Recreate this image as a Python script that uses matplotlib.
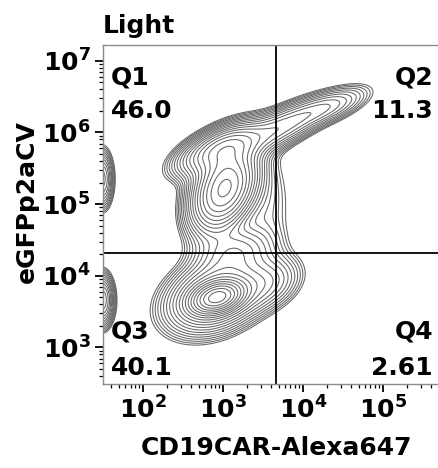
import numpy as np
import matplotlib
matplotlib.use("Agg")
import matplotlib.pyplot as plt
from matplotlib.ticker import LogLocator, NullFormatter, FixedLocator, FixedFormatter

plt.rcParams['font.family'] = ['DejaVu Sans']
plt.rcParams['font.weight'] = 'bold'
plt.rcParams['mathtext.fontset'] = 'dejavusans'
plt.rcParams['mathtext.default'] = 'bf'

# ---- chart data ----
title = "Light"
x_label = "CD19CAR-Alexa647"
y_label = "eGFPp2aCV"
quad_names = ["Q1", "Q2", "Q3", "Q4"]
quad_values = ["46.0", "11.3", "40.1", "2.61"]
gate_x = 4600.0
gate_y = 2.1e4
x_range = [10 ** 1.5, 10 ** 5.69]
y_range = [10 ** 2.49, 10 ** 7.22]
x_ticks = [1e2, 1e3, 1e4, 1e5]
x_tick_labels = [r"$10^{2}$", r"$10^{3}$", r"$10^{4}$", r"$10^{5}$"]
y_ticks = [1e3, 1e4, 1e5, 1e6, 1e7]
y_tick_labels = [r"$10^{3}$", r"$10^{4}$", r"$10^{5}$", r"$10^{6}$", r"$10^{7}$"]

# cell populations (log10 space): centre, spread, correlation, weight
pop_logx = [3.02, 2.98, 3.70, 4.30, 2.93, 2.90, 3.55, 3.15, 3.55, 1.49, 1.49]
pop_logy = [5.22, 5.78, 6.05, 6.35, 3.70, 3.72, 3.90, 4.35, 5.00, 5.35, 3.66]
pop_sdx = [0.22, 0.30, 0.32, 0.30, 0.17, 0.33, 0.25, 0.28, 0.20, 0.075, 0.08]
pop_sdy = [0.32, 0.20, 0.22, 0.17, 0.12, 0.28, 0.22, 0.20, 0.45, 0.22, 0.20]
pop_rho = [0.35, 0.60, 0.70, 0.65, 0.30, 0.30, 0.30, 0.20, 0.00, 0.00, 0.00]
pop_weight = [1.00, 0.42, 0.20, 0.13, 1.30, 0.42, 0.12, 0.16, 0.04, 0.22, 0.30]

# ---- density on a log grid ----
u = np.linspace(np.log10(x_range[0]), np.log10(x_range[1]), 500)
v = np.linspace(np.log10(y_range[0]), np.log10(y_range[1]), 500)
U, V = np.meshgrid(u, v)
Z = np.zeros_like(U)
for mx, my, sx, sy, r, w in zip(pop_logx, pop_logy, pop_sdx, pop_sdy, pop_rho, pop_weight):
    dx = (U - mx) / sx
    dy = (V - my) / sy
    q = (dx ** 2 - 2 * r * dx * dy + dy ** 2) / (1 - r ** 2)
    Z += w * np.exp(-0.5 * q)

levels = Z.max() * np.geomspace(0.012, 0.85, 20)

fig = plt.figure(figsize=(4.38, 4.68), dpi=100)
W, H = 438.0, 468.0
ax = fig.add_axes([103 / W, 1 - 384 / H, 1 - 103 / W, (384 - 45) / H])
ax.set_xscale('log')
ax.set_yscale('log')
ax.contour(10 ** U, 10 ** V, Z, levels=levels, colors='#666666', linewidths=0.75)
ax.set_xlim(x_range)
ax.set_ylim(y_range)

ax.axvline(gate_x, color='black', lw=1.3)
ax.axhline(gate_y, color='black', lw=1.3)

for s in ['left', 'bottom', 'top']:
    ax.spines[s].set_color('#8a8a8a')
    ax.spines[s].set_linewidth(1.0)
ax.spines['right'].set_visible(False)

ax.xaxis.set_major_locator(FixedLocator(x_ticks))
ax.xaxis.set_major_formatter(FixedFormatter(x_tick_labels))
ax.yaxis.set_major_locator(FixedLocator(y_ticks))
ax.yaxis.set_major_formatter(FixedFormatter(y_tick_labels))
ax.xaxis.set_minor_locator(LogLocator(base=10, subs=np.arange(2, 10), numticks=20))
ax.yaxis.set_minor_locator(LogLocator(base=10, subs=np.arange(2, 10), numticks=20))
ax.xaxis.set_minor_formatter(NullFormatter())
ax.yaxis.set_minor_formatter(NullFormatter())
ax.tick_params(which='major', direction='out', length=6, width=1.3, color='black',
               labelsize=18, pad=3)
ax.tick_params(which='minor', direction='out', length=3, width=0.9, color='black')
ax.tick_params(axis='x', which='major', pad=3)

fs = 18
fig.text(103 / W, 1 - 33 / H, title, fontsize=fs, fontweight='bold', ha='left', va='baseline')
fig.text(276 / W, 1 - 455 / H, x_label, fontsize=fs, fontweight='bold', ha='center', va='baseline')
fig.text(27 / W, 1 - 202 / H, y_label, fontsize=fs, fontweight='bold', ha='center', va='center',
         rotation=90)

fig.text(111 / W, 1 - 85 / H, quad_names[0], fontsize=fs, fontweight='bold', ha='left', va='baseline')
fig.text(111 / W, 1 - 118 / H, quad_values[0], fontsize=fs, fontweight='bold', ha='left', va='baseline')
fig.text(433 / W, 1 - 85 / H, quad_names[1], fontsize=fs, fontweight='bold', ha='right', va='baseline')
fig.text(433 / W, 1 - 118 / H, quad_values[1], fontsize=fs, fontweight='bold', ha='right', va='baseline')
fig.text(111 / W, 1 - 339 / H, quad_names[2], fontsize=fs, fontweight='bold', ha='left', va='baseline')
fig.text(111 / W, 1 - 375 / H, quad_values[2], fontsize=fs, fontweight='bold', ha='left', va='baseline')
fig.text(433 / W, 1 - 339 / H, quad_names[3], fontsize=fs, fontweight='bold', ha='right', va='baseline')
fig.text(433 / W, 1 - 375 / H, quad_values[3], fontsize=fs, fontweight='bold', ha='right', va='baseline')

fig.savefig('out.png', dpi=100)
